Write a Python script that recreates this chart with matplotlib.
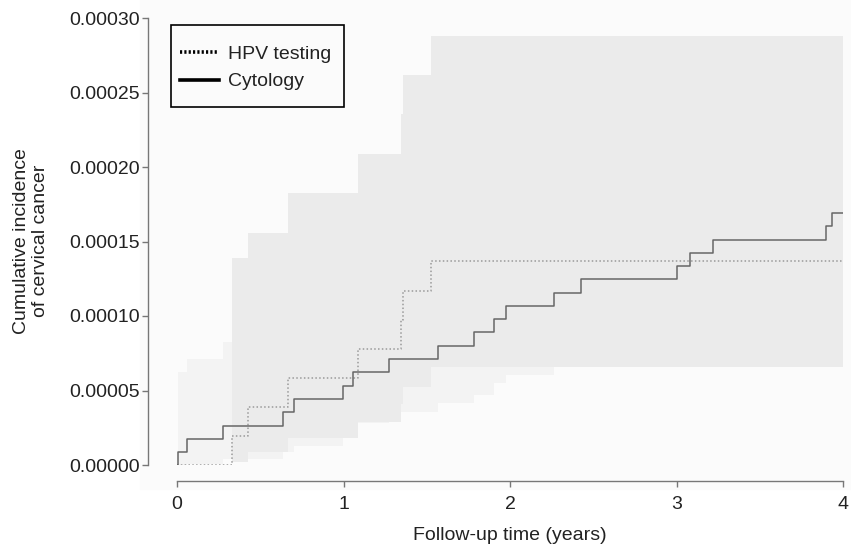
import numpy as np
from matplotlib import pyplot as plt
from matplotlib.lines import Line2D
from matplotlib.patches import Rectangle

plt.rcParams['font.family'] = ['Liberation Sans', 'DejaVu Sans']

# Cytology: Kaplan-Meier style step curve and its confidence band
cyto_t = [0, 0.008, 0.060, 0.278, 0.635, 0.705, 0.997, 1.059, 1.275, 1.568, 1.784,
          1.906, 1.974, 2.266, 2.426, 3.001, 3.081, 3.221, 3.896, 3.932, 4.0]
cyto_y = [0, 0.0000087, 0.0000174, 0.0000264, 0.0000354, 0.0000443, 0.0000532,
          0.0000622, 0.0000711, 0.0000799, 0.0000891, 0.0000978, 0.0001067,
          0.0001156, 0.0001246, 0.0001336, 0.0001425, 0.0001512, 0.0001602,
          0.0001689, 0.0001689]
cyto_band_t = cyto_t[1:]
cyto_lo = [0.0000002, 0.000001, 0.000004, 0.000009, 0.000013, 0.000020, 0.0000285,
           0.0000356, 0.0000416, 0.000047, 0.0000548, 0.0000604, 0.000069, 0.000075,
           0.000082, 0.000088, 0.000094, 0.000100, 0.000106, 0.000106]
cyto_hi = [0.0000626, 0.0000711, 0.0000828, 0.000095, 0.000105, 0.000115, 0.000124,
           0.000133, 0.000142, 0.000151, 0.000160, 0.000169, 0.000178, 0.000187,
           0.000196, 0.000205, 0.000214, 0.000223, 0.000232, 0.000232]

# HPV testing
hpv_t = [0, 0.332, 0.425, 0.665, 1.089, 1.345, 1.359, 1.526, 4.0]
hpv_y = [0, 0.0000195, 0.0000389, 0.0000584, 0.0000779, 0.0000974, 0.0001169,
         0.0001371, 0.0001371]
hpv_band_t = hpv_t[1:]
hpv_lo = [0.0000022, 0.0000089, 0.0000179, 0.000029, 0.000041, 0.0000525,
          0.0000655, 0.0000655]
hpv_hi = [0.000139, 0.0001557, 0.0001827, 0.0002087, 0.0002356, 0.0002617,
          0.0002881, 0.0002881]

yticks = [0, 0.00005, 0.0001, 0.00015, 0.0002, 0.00025, 0.0003]
xticks = [0, 1, 2, 3, 4]

W, H = 851, 548
fig = plt.figure(figsize=(W / 100, H / 100), dpi=100)
fig.patches.append(Rectangle((140 / W, 1 - 489 / H), 1, 489 / H, transform=fig.transFigure,
                             color='#fbfbfb', zorder=-10))
ax = fig.add_axes([177 / W, 1 - 465 / H, 666 / W, 447 / H])
ax.set_facecolor('none')

ax.fill_between(cyto_band_t, cyto_lo, cyto_hi, step='post', color='#f3f3f3', lw=0, zorder=1)
ax.fill_between(hpv_band_t, hpv_lo, hpv_hi, step='post', color='#ebebeb', lw=0, zorder=2)
ax.step(hpv_t, hpv_y, where='post', color='#9a9a9a', lw=1.1, linestyle=(0, (1, 1.5)), zorder=3)
ax.step(cyto_t, cyto_y, where='post', color='#666666', lw=1.1, zorder=4)

ax.set_xlim(0, 4)
ax.set_ylim(0, 0.0003)
ax.set_xticks(xticks)
ax.set_yticks(yticks)
ax.set_yticklabels([f"{v:.5f}" for v in yticks])
ax.set_xticklabels([str(v) for v in xticks])

for s in ['top', 'right']:
    ax.spines[s].set_visible(False)
ax.spines['left'].set_position(('outward', 29 * 0.72))
ax.spines['bottom'].set_position(('outward', 16 * 0.72))
for s in ['left', 'bottom']:
    ax.spines[s].set_color('#777777')
    ax.spines[s].set_linewidth(1.0)
ax.tick_params(axis='both', which='major', labelsize=14, length=4, width=1.0,
               color='#777777', labelcolor='#222222')
ax.tick_params(axis='x', pad=7)
ax.tick_params(axis='y', pad=2)

fig.text(31 / W, 1 - 241 / H, "Cumulative incidence\nof cervical cancer", rotation=90,
         ha='center', va='center', fontsize=14, color='#222222', multialignment='center')
fig.text(510 / W, 1 - 536 / H, "Follow-up time (years)", ha='center', va='center',
         fontsize=14, color='#222222')

# legend frame drawn separately so the padding can match
frame = Rectangle((171 / W, 1 - 107 / H), 173 / W, 82 / H, transform=fig.transFigure,
                  facecolor='#fbfbfb', edgecolor='black', lw=1.2, zorder=5, clip_on=False)
ax.add_patch(frame)
handles = [Line2D([], [], color='black', lw=2.6, linestyle=(0, (0.6, 0.6))),
           Line2D([], [], color='black', lw=2.6)]
leg = ax.legend(handles, ["HPV testing", "Cytology"], loc='center left',
                bbox_to_anchor=(180 / W, 1 - 68 / H), bbox_transform=fig.transFigure,
                borderaxespad=0, borderpad=0, fontsize=14, frameon=False,
                handlelength=2.0, handletextpad=0.46, labelspacing=0.5)
leg.set_zorder(6)
for t in leg.get_texts():
    t.set_color('#222222')

fig.savefig("out.png", dpi=100)
